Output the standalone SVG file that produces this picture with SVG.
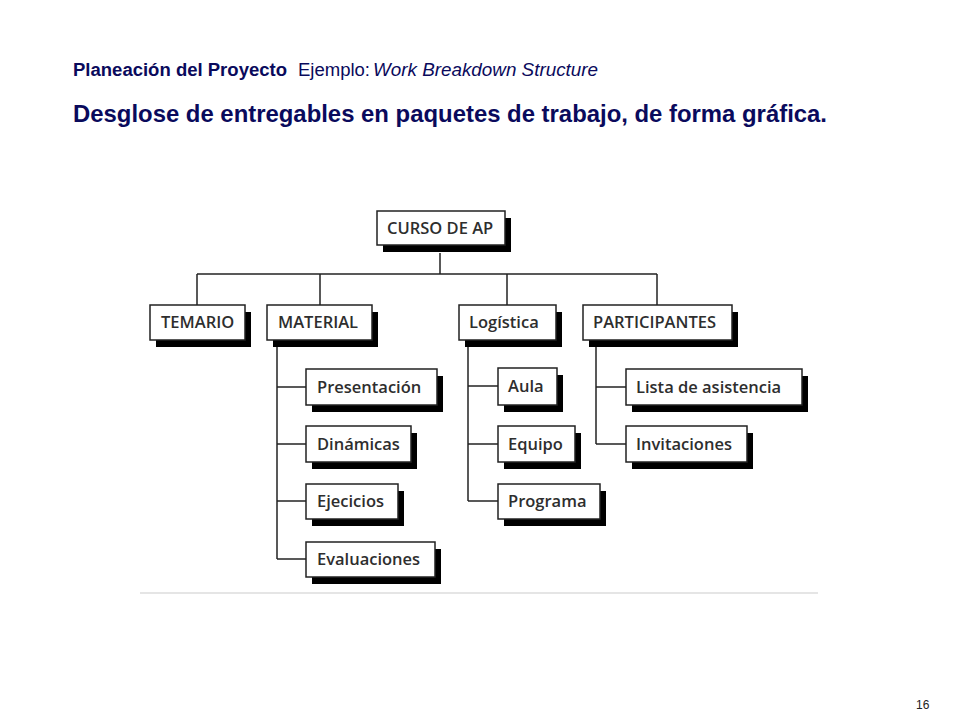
<svg xmlns="http://www.w3.org/2000/svg" width="960" height="720" viewBox="0 0 960 720">
<style>
.sh{fill:#000}
.bx{fill:#fff;stroke:#222;stroke-width:1.5}
.lb{font-family:"Open Sans","DejaVu Sans",sans-serif;font-weight:600;font-size:16.5px;fill:#2e2e2e}
.cn line{stroke:#222;stroke-width:1.5}
.t1{font-family:"Liberation Sans",Arial,sans-serif;font-size:18px;fill:#0a0a5c}
.t2{font-family:"Liberation Sans",Arial,sans-serif;font-size:24px;font-weight:bold;fill:#0a0a5c}
</style>
<rect width="960" height="720" fill="#fff"/>
<text class="t1" x="73" y="76" font-weight="bold" textLength="214" lengthAdjust="spacingAndGlyphs">Planeación del Proyecto</text>
<text class="t1" x="298" y="76" textLength="72" lengthAdjust="spacingAndGlyphs">Ejemplo:</text>
<text class="t1" x="373" y="76" font-style="italic" textLength="225" lengthAdjust="spacingAndGlyphs">Work Breakdown Structure</text>
<text class="t2" x="73" y="122" textLength="754" lengthAdjust="spacingAndGlyphs">Desglose de entregables en paquetes de trabajo, de forma gráfica.</text>
<g id="connectors" class="cn">
<line x1="440" y1="253" x2="440" y2="274"/>
<line x1="197" y1="274" x2="657" y2="274"/>
<line x1="197" y1="274" x2="197" y2="305"/>
<line x1="320" y1="274" x2="320" y2="305"/>
<line x1="507" y1="274" x2="507" y2="305"/>
<line x1="657" y1="274" x2="657" y2="305"/>
<line x1="277" y1="346" x2="277" y2="559"/>
<line x1="277" y1="387" x2="306" y2="387"/>
<line x1="277" y1="444" x2="306" y2="444"/>
<line x1="277" y1="501" x2="306" y2="501"/>
<line x1="277" y1="559" x2="306" y2="559"/>
<line x1="468" y1="346" x2="468" y2="501"/>
<line x1="468" y1="386" x2="498" y2="386"/>
<line x1="468" y1="444" x2="498" y2="444"/>
<line x1="468" y1="501" x2="498" y2="501"/>
<line x1="596" y1="346" x2="596" y2="444"/>
<line x1="596" y1="387" x2="626" y2="387"/>
<line x1="596" y1="444" x2="626" y2="444"/>
</g>
<g id="curso"><rect class="sh" x="383" y="218" width="128" height="34"/><rect class="bx" x="377" y="211" width="128" height="34"/><text class="lb" x="387" y="234">CURSO DE AP</text></g>
<g id="temario"><rect class="sh" x="156" y="312" width="95" height="35"/><rect class="bx" x="150" y="305" width="95" height="35"/><text class="lb" x="161" y="328">TEMARIO</text></g>
<g id="material"><rect class="sh" x="273" y="312" width="105" height="35"/><rect class="bx" x="267" y="305" width="105" height="35"/><text class="lb" x="278" y="328">MATERIAL</text></g>
<g id="logistica"><rect class="sh" x="465" y="312" width="97" height="35"/><rect class="bx" x="459" y="305" width="97" height="35"/><text class="lb" x="469" y="328">Logística</text></g>
<g id="participantes"><rect class="sh" x="589" y="312" width="149" height="35"/><rect class="bx" x="583" y="305" width="149" height="35"/><text class="lb" x="593" y="328">PARTICIPANTES</text></g>
<g id="presentacion"><rect class="sh" x="312" y="376" width="131" height="36"/><rect class="bx" x="306" y="369" width="131" height="36"/><text class="lb" x="317" y="393">Presentación</text></g>
<g id="dinamicas"><rect class="sh" x="312" y="433" width="105" height="36"/><rect class="bx" x="306" y="426" width="105" height="36"/><text class="lb" x="317" y="450">Dinámicas</text></g>
<g id="ejecicios"><rect class="sh" x="312" y="491" width="92" height="35"/><rect class="bx" x="306" y="484" width="92" height="35"/><text class="lb" x="317" y="507">Ejecicios</text></g>
<g id="evaluaciones"><rect class="sh" x="312" y="549" width="129" height="35"/><rect class="bx" x="306" y="542" width="129" height="35"/><text class="lb" x="317" y="565">Evaluaciones</text></g>
<g id="aula"><rect class="sh" x="504" y="375" width="59" height="37"/><rect class="bx" x="498" y="368" width="59" height="37"/><text class="lb" x="508" y="392">Aula</text></g>
<g id="equipo"><rect class="sh" x="504" y="433" width="77" height="36"/><rect class="bx" x="498" y="426" width="77" height="36"/><text class="lb" x="508" y="450">Equipo</text></g>
<g id="programa"><rect class="sh" x="504" y="491" width="102" height="35"/><rect class="bx" x="498" y="484" width="102" height="35"/><text class="lb" x="508" y="507">Programa</text></g>
<g id="lista"><rect class="sh" x="632" y="376" width="176" height="36"/><rect class="bx" x="626" y="369" width="176" height="36"/><text class="lb" x="636" y="393">Lista de asistencia</text></g>
<g id="invitaciones"><rect class="sh" x="632" y="433" width="121" height="36"/><rect class="bx" x="626" y="426" width="121" height="36"/><text class="lb" x="636" y="450">Invitaciones</text></g>
<line x1="140" y1="593" x2="818" y2="593" stroke="#ddd" stroke-width="1.5"/>
<text x="916" y="709" font-family="Liberation Sans,Arial,sans-serif" font-size="12" fill="#222">16</text>
</svg>
